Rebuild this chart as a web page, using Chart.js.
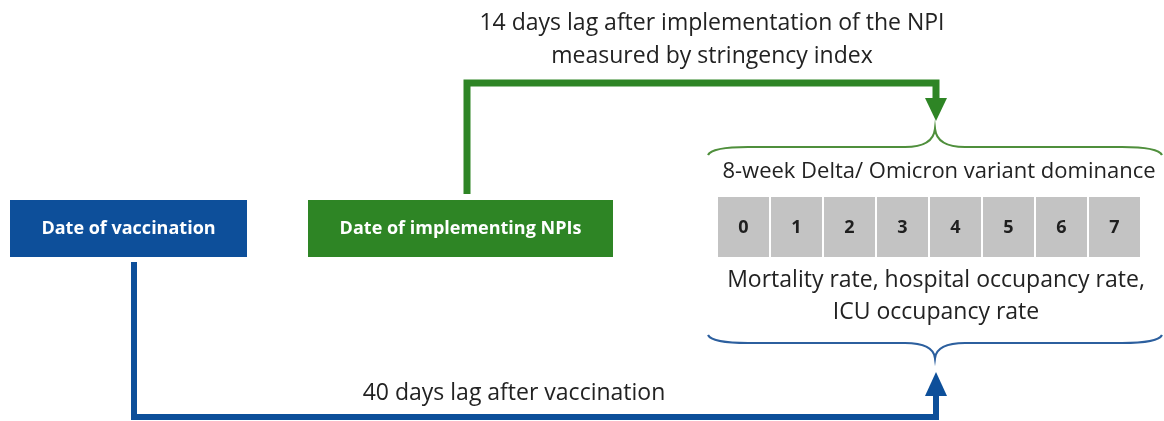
<!DOCTYPE html>
<html>
<head>
<meta charset="utf-8">
<script src="https://cdn.jsdelivr.net/npm/chart.js@4.4.0/dist/chart.umd.min.js"></script>
<style>
  html, body { margin: 0; padding: 0; background: #fff; }
  #wrap { width: 1164px; height: 421px; }
</style>
</head>
<body>
<div id="wrap"><canvas id="diagram"></canvas></div>
<script>
// week cells of the variant dominance window
const weeks = ['0', '1', '2', '3', '4', '5', '6', '7'];
const boxLabels = ['Date of vaccination', 'Date of implementing NPIs'];
const npiLagText = ['14 days lag after implementation of the NPI', 'measured by stringency index'];
const vaccLagText = ['40 days lag after vaccination'];
const dominanceText = ['8-week Delta/ Omicron variant dominance'];
const outcomeText = ['Mortality rate, hospital occupancy rate,', 'ICU occupancy rate'];

const BLUE = '#0d4f9a';
const GREEN = '#2e8525';
const FONT = '"Open Sans", "Liberation Sans", sans-serif';

const diagramPlugin = {
  id: 'diagram',
  afterDraw(chart) {
    const ctx = chart.ctx;
    const sx = chart.scales.x, sy = chart.scales.y;
    const X = v => sx.getPixelForValue(v);
    const Y = v => sy.getPixelForValue(v);
    ctx.save();

    // boxes
    const box = (x0, y0, x1, y1, fill, text) => {
      ctx.fillStyle = fill;
      ctx.fillRect(X(x0), Y(y0), X(x1) - X(x0), Y(y1) - Y(y0));
      ctx.fillStyle = '#fff';
      ctx.font = 'bold 18px ' + FONT;
      ctx.textAlign = 'center';
      ctx.textBaseline = 'middle';
      ctx.fillText(text, X((x0 + x1) / 2), Y((y0 + y1) / 2));
    };
    box(10, 200, 247, 257, BLUE, boxLabels[0]);
    box(308, 200, 613, 257, GREEN, boxLabels[1]);

    // elbow connectors
    const path = (pts, color, w) => {
      ctx.strokeStyle = color;
      ctx.lineWidth = w;
      ctx.lineJoin = 'miter';
      ctx.beginPath();
      pts.forEach((p, i) => i ? ctx.lineTo(X(p[0]), Y(p[1])) : ctx.moveTo(X(p[0]), Y(p[1])));
      ctx.stroke();
    };
    const head = (x, tip, base, half, color) => {
      ctx.fillStyle = color;
      ctx.beginPath();
      ctx.moveTo(X(x), Y(tip));
      ctx.lineTo(X(x - half), Y(base));
      ctx.lineTo(X(x + half), Y(base));
      ctx.closePath();
      ctx.fill();
    };
    path([[467, 194], [467, 83], [936, 83], [936, 100]], GREEN, 7);
    head(936, 121, 98, 11, GREEN);
    path([[134, 262], [134, 417], [936, 417], [936, 395]], BLUE, 6);
    head(936, 372, 396, 11, BLUE);

    // curly braces
    const brace = (x0, x1, yEdge, yMid, color, open) => {
      const xm = (x0 + x1) / 2;
      ctx.strokeStyle = color;
      ctx.lineWidth = 2.2;
      ctx.beginPath();
      ctx.moveTo(X(x0), Y(yEdge));
      ctx.quadraticCurveTo(X(x0 + 4), Y(yMid), X(x0 + 40), Y(yMid));
      ctx.lineTo(X(xm - 30), Y(yMid));
      ctx.quadraticCurveTo(X(xm - 2), Y(yMid), X(xm), Y(open));
      ctx.quadraticCurveTo(X(xm + 2), Y(yMid), X(xm + 30), Y(yMid));
      ctx.lineTo(X(x1 - 40), Y(yMid));
      ctx.quadraticCurveTo(X(x1 - 4), Y(yMid), X(x1), Y(yEdge));
      ctx.stroke();
    };
    brace(708, 1162, 155, 147, '#4f8f3c', 129);
    brace(708, 1162, 335, 343, '#2c5f9e', 358);

    // week cells
    const cx0 = 717, cw = 53;
    weeks.forEach((w, i) => {
      const a = cx0 + i * cw;
      ctx.fillStyle = '#c3c3c3';
      ctx.fillRect(X(a + 1), Y(197), X(a + cw - 1) - X(a + 1), Y(257) - Y(197));
      ctx.fillStyle = '#1f1f1f';
      ctx.font = 'bold 18px ' + FONT;
      ctx.textAlign = 'center';
      ctx.textBaseline = 'middle';
      ctx.fillText(w, X(a + cw / 2), Y(228));
    });

    // text blocks
    const lines = (arr, x, y0, step, size) => {
      ctx.fillStyle = '#222';
      ctx.font = size + 'px ' + FONT;
      ctx.textAlign = 'center';
      ctx.textBaseline = 'middle';
      arr.forEach((t, i) => ctx.fillText(t, X(x), Y(y0 + i * step)));
    };
    lines(npiLagText, 712, 23, 33, 23);
    lines(dominanceText, 939, 172, 0, 22);
    lines(outcomeText, 936, 280, 32, 23);
    lines(vaccLagText, 514, 393, 0, 23);

    ctx.restore();
  }
};

new Chart(document.getElementById('diagram'), {
  type: 'scatter',
  data: { datasets: [{ data: [], showLine: false }] },
  options: {
    responsive: true,
    maintainAspectRatio: false,
    animation: false,
    layout: { padding: 0 },
    plugins: { legend: { display: false }, tooltip: { enabled: false } },
    scales: {
      x: { type: 'linear', min: 0, max: 1164, display: false },
      y: { type: 'linear', min: 0, max: 421, reverse: true, display: false }
    }
  },
  plugins: [diagramPlugin]
});
</script>
</body>
</html>
